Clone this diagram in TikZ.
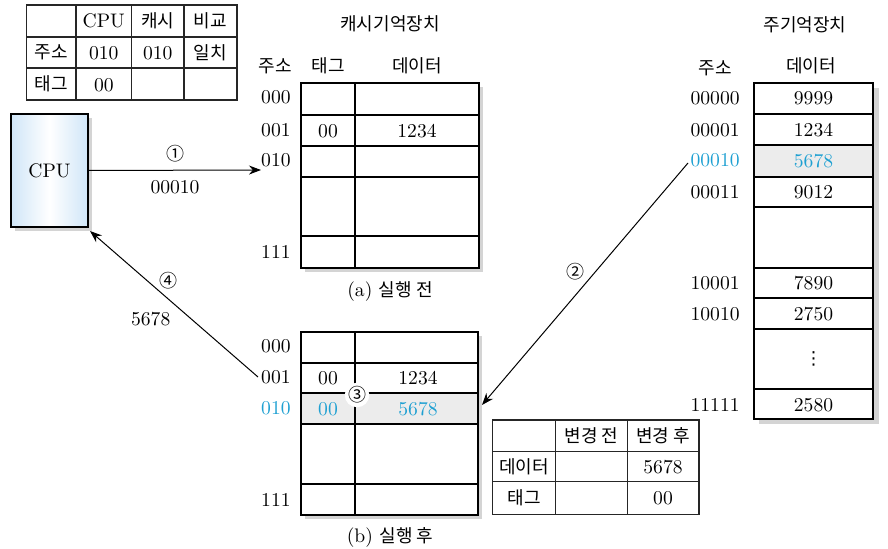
\documentclass[tikz,border=0pt]{standalone}
\usepackage{fontspec}
\newfontfamily\kor{Noto Sans CJK KR}
\newfontfamily\sym{DejaVu Sans}
\usetikzlibrary{positioning,arrows.meta}
\definecolor{hitblue}{RGB}{30,160,210}
\definecolor{rowgray}{RGB}{236,236,236}
\definecolor{shadegray}{RGB}{212,212,212}
\definecolor{cpublue}{RGB}{208,230,248}

\begin{document}
\begin{tikzpicture}[x=0.5pt,y=-0.5pt,
    every node/.style={font=\fontsize{9.8}{11}\selectfont, inner sep=1pt},
    kr/.style={font=\kor\fontsize{9}{11}\selectfont},
    hit/.style={text=hitblue},
    memgrid/.style={draw=black, line width=1pt},
    thingrid/.style={draw=black!85, line width=0.6pt},
    shade/.style={fill=shadegray, draw=none},
    link/.style={-{Stealth[length=6pt,width=4.5pt]}, line width=0.5pt}]
        \useasboundingbox (0,0) rectangle (888,549);

        % Compare table (top left)
        \draw[thingrid] (26.7,5) rectangle (237,100);
        \foreach \y in {37,68} \draw[thingrid] (26.7,\y) -- (237,\y);
        \foreach \x in {76,131.7,184} \draw[thingrid] (\x,5) -- (\x,100);
        \node (cmpcpu) at (103.8,21) {CPU};
        \node[kr] (cmpcache) at (157.8,21) {캐시};
        \node[kr] (cmpres) at (210.5,21) {비교};
        \node[kr] (cmpaddr) at (51.3,52.5) {주소};
        \node (cmpaddr1) at (103.8,53) {010};
        \node (cmpaddr2) at (157.8,53) {010};
        \node[kr] (cmpsame) at (210.5,52.5) {일치};
        \node[kr] (cmptag) at (51.3,84) {태그};
        \node (cmptag1) at (103.8,85) {00};

        % CPU
        \fill[shadegray] (15,118) rectangle (92,231);
        \node[draw, line width=1pt, left color=cpublue, right color=cpublue, middle color=white,
              minimum width=38.5pt, minimum height=56.5pt] (cpu) at (49.5,170.5) {CPU};

        % Cache memory (a)
        \node[kr] (titlea) at (390,24) {캐시기억장치};
        \node[kr] (hdaddr) at (275,66) {주소};
        \node[kr] (hdtag) at (328,66) {태그};
        \node[kr] (hddata) at (417,66) {데이터};
        \fill[shade] (305,87) rectangle (483,272);
        \fill[white] (301,83) rectangle (479,268);
        \draw[memgrid] (301,83) rectangle (479,268);
        \draw[memgrid] (355,83) -- (355,268);
        \foreach \y in {115,146,177,236} \draw[memgrid] (301,\y) -- (479,\y);
        \foreach \a/\y [count=\i] in {000/97, 001/130, 010/160, 111/252}
            \node[anchor=east] (aaddr\i) at (293,\y) {\a};
        \node (atag) at (328,131) {00};
        \node (adata) at (417,131) {1234};
        \node (capa) at (390,292) {(a) {\kor\fontsize{9}{11}\selectfont 실행 전}};

        % Cache memory (b)
        \fill[shade] (305,336) rectangle (482,519);
        \fill[white] (301,332) rectangle (478,515);
        \fill[rowgray] (301,393) rectangle (478,424);
        \draw[memgrid] (301,332) rectangle (478,515);
        \draw[memgrid] (355,332) -- (355,515);
        \foreach \y in {363,393,424,484} \draw[memgrid] (301,\y) -- (478,\y);
        \node[anchor=east] (baddr1) at (293,346) {000};
        \node[anchor=east] (baddr2) at (293,377) {001};
        \node[anchor=east, hit] (baddr3) at (293,408) {010};
        \node[anchor=east] (baddr4) at (293,500) {111};
        \node (btag1) at (328,378) {00};
        \node (bdata1) at (418,378) {1234};
        \node[hit] (btag2) at (328,409) {00};
        \node[hit] (bdata2) at (418,409) {5678};
        \node[kr, circle, fill=white, inner sep=0pt] (step3) at (357,395) {③};
        \node (capb) at (390,537) {(b) {\kor\fontsize{9}{11}\selectfont 실행 후}};

        % Main memory
        \node[kr] (titlem) at (805,25) {주기억장치};
        \node[kr] (mhdaddr) at (715,68) {주소};
        \node[kr] (mhddata) at (811,66) {데이터};
        \fill[shade] (759,88) rectangle (879,424);
        \fill[white] (754,83) rectangle (873,419);
        \fill[rowgray] (754,145) rectangle (873,177);
        \draw[memgrid] (754,83) rectangle (873,419);
        \foreach \y in {114,145,177,207,268,298,329,389} \draw[memgrid] (754,\y) -- (873,\y);
        \foreach \a/\d/\y [count=\i] in {00000/9999/98, 00001/1234/130, 00011/9012/192,
                                         10001/7890/283, 10010/2750/314, 11111/2580/405}
        {
            \node[anchor=east] (maddr\i) at (742,\y) {\a};
            \node (mdata\i) at (813.5,\y) {\d};
        }
        \node[anchor=east, hit] (maddrhit) at (742,160) {00010};
        \node[hit] (mdatahit) at (813.5,161) {5678};
        \node[font=\sym\fontsize{9}{11}\selectfont] (mdots) at (813.5,359) {⋮};

        % Change table (bottom right)
        \draw[thingrid] (492.7,420) rectangle (699,514.3);
        \foreach \y in {451.7,481.7} \draw[thingrid] (492.7,\y) -- (699,\y);
        \foreach \x in {555.7,627.3} \draw[thingrid] (\x,420) -- (\x,514.3);
        \node[kr] (chbefore) at (591.5,436) {변경 전};
        \node[kr] (chafter) at (663,436) {변경 후};
        \node[kr] (chdata) at (524,467) {데이터};
        \node (chdata1) at (663,467) {5678};
        \node[kr] (chtag) at (524,498) {태그};
        \node (chtag1) at (663,498) {00};

        % Connectors
        \coordinate (ain) at (261,170);
        \coordinate (mout) at (688,163);
        \coordinate (bin) at (482,405);
        \coordinate (bout) at (258,377);
        \coordinate (cpuin) at (90,231);
        \draw[link] (cpu.east) -- (ain)
            node[midway, above=3pt, kr] (step1) {①}
            node[midway, below=4pt] (addrbus) {00010};
        \draw[link] (mout) -- (bin)
            node[pos=0.45, left=4pt, kr] (step2) {②};
        \draw[link] (bout) -- (cpuin)
            node[pos=0.66, right=5pt, kr] (step4) {④}
            node[pos=0.4, left=9pt] (databus) {5678};
    \end{tikzpicture}
\end{document}
